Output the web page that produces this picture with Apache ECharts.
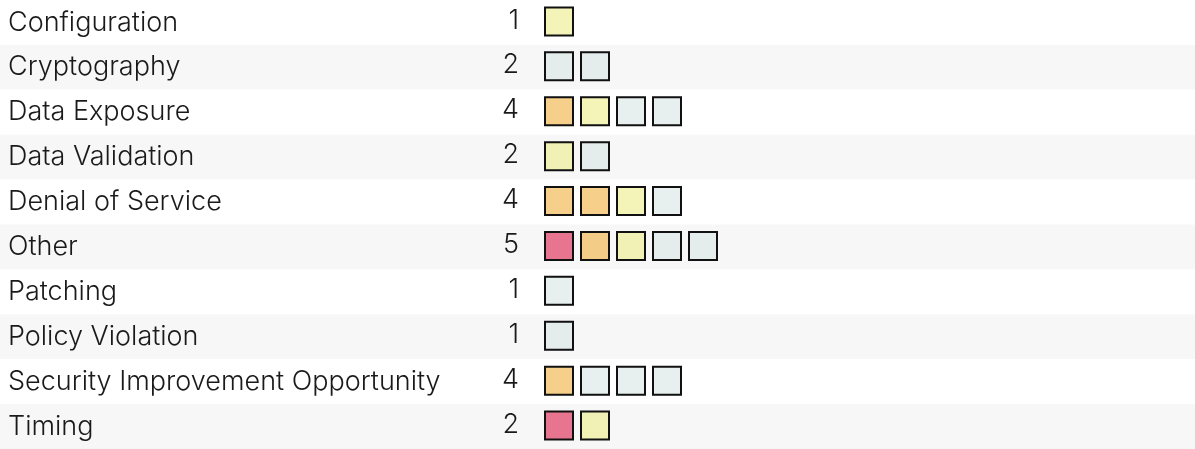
<!DOCTYPE html>
<html>
<head>
<meta charset="utf-8">
<script src="https://cdn.jsdelivr.net/npm/echarts@6/dist/echarts.min.js"></script>
<style>html,body{margin:0;padding:0;background:#fff}#c{width:1195px;height:449px}</style>
</head>
<body>
<div id="c"></div>
<script>
const categories = ["Configuration","Cryptography","Data Exposure","Data Validation","Denial of Service","Other","Patching","Policy Violation","Security Improvement Opportunity","Timing"];
const counts = [1,2,4,2,4,5,1,1,4,2];
const severities = [
  ["medium"],
  ["low","low"],
  ["high","medium","low","low"],
  ["medium","low"],
  ["high","high","medium","low"],
  ["critical","high","medium","low","low"],
  ["low"],
  ["low"],
  ["high","low","low","low"],
  ["critical","medium"]
];
const severityColors = {
  critical: "rgba(222,30,74,0.6)",
  high: "rgba(240,177,60,0.6)",
  medium: "rgba(238,237,137,0.6)",
  low: "rgba(217,230,228,0.6)"
};

const squareData = [];
severities.forEach((row, r) => {
  row.forEach((sev, i) => {
    squareData.push({ value: [i, categories[r]], itemStyle: { color: severityColors[sev] } });
  });
});
const countData = counts.map((c, r) => ({ value: [-1.11, categories[r]], label: { formatter: String(c) } }));

const chart = echarts.init(document.getElementById('c'), null, { renderer: 'canvas' });
chart.setOption({
  animation: false,
  backgroundColor: '#ffffff',
  grid: { left: 0, right: 0, top: 0, bottom: 0, containLabel: false },
  xAxis: {
    type: 'value', min: -559/36, max: (1195-559)/36,
    show: false, splitLine: { show: false }
  },
  yAxis: {
    type: 'category', data: categories, inverse: true,
    axisLine: { show: false }, axisTick: { show: false },
    splitLine: { show: false },
    splitArea: { show: true, areaStyle: { color: ['#ffffff', '#f7f7f7'] } },
    axisLabel: {
      inside: true, margin: 8, align: 'left',
      fontFamily: 'Inter', fontSize: 27, fontWeight: 300, color: '#1a1a1a',
      padding: [0, 0, 3, 0]
    }
  },
  series: [
    {
      type: 'scatter', symbol: 'rect', symbolSize: 28, symbolOffset: [0, -1],
      data: squareData,
      itemStyle: { borderColor: '#111111', borderWidth: 2, opacity: 1 }
    },
    {
      type: 'scatter', symbolSize: 0, data: countData,
      itemStyle: { opacity: 1 },
      label: {
        show: true, position: 'left', distance: 0, offset: [0, -2],
        fontFamily: 'Inter', fontSize: 27, fontWeight: 300, color: '#1a1a1a'
      }
    }
  ]
});
</script>
</body>
</html>
